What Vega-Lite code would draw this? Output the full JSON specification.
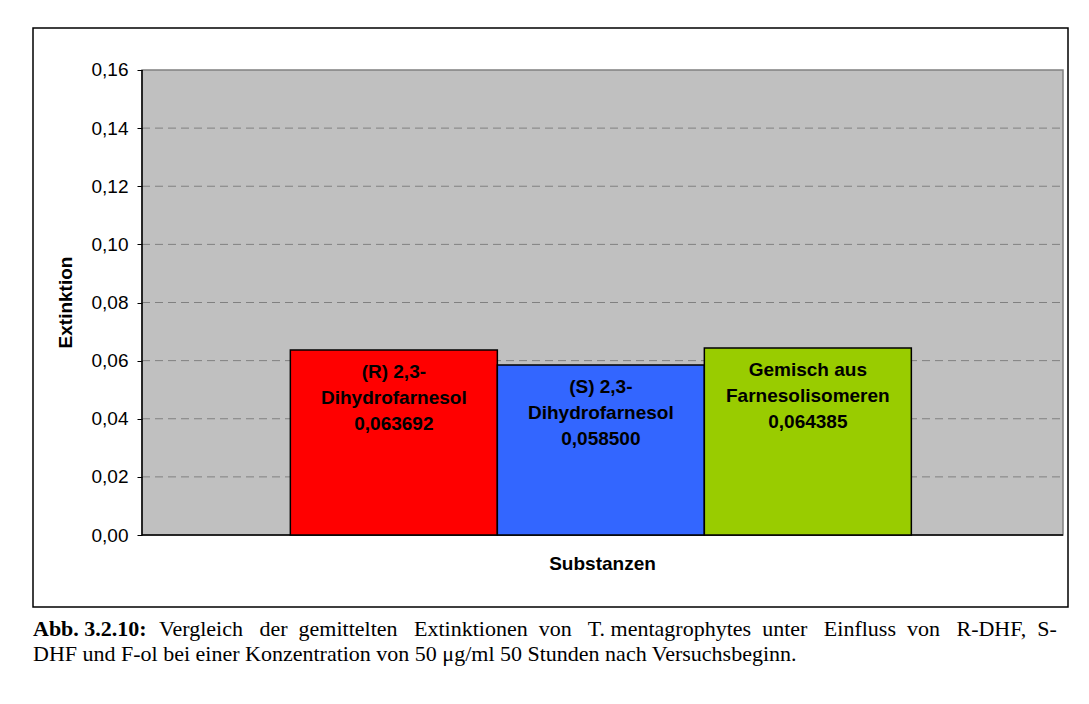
{
  "$schema": "https://vega.github.io/schema/vega-lite/v6.json",
  "width": 1035,
  "height": 579,
  "autosize": "none",
  "padding": {"left": 33, "top": 28, "right": 21, "bottom": 97},
  "background": "white",
  "config": {
    "view": {"stroke": "black", "strokeWidth": 1.5, "fill": "white"},
    "font": "Liberation Sans",
    "axisY": {"grid": false, "domain": false}
  },
  "title": {
    "text": "Abb. 3.2.10:",
    "subtitle": [
      "\u200b\u00a0\u00a0\u00a0\u00a0\u00a0\u00a0\u00a0\u00a0\u00a0\u00a0\u00a0\u00a0\u00a0\u00a0\u00a0\u00a0\u00a0\u00a0\u00a0\u00a0\u00a0\u00a0 Vergleich\u00a0\u00a0 der\u00a0 gemittelten\u00a0\u00a0 Extinktionen\u00a0 von\u00a0\u00a0 T. mentagrophytes\u00a0 unter\u00a0\u00a0 Einfluss\u00a0 von\u00a0\u00a0 R-DHF,\u00a0 S-",
      "DHF und F-ol bei einer Konzentration von 50 μg/ml 50 Stunden nach Versuchsbeginn."
    ],
    "orient": "bottom",
    "anchor": "start",
    "frame": "group",
    "font": "Liberation Serif",
    "fontSize": 22,
    "fontWeight": "bold",
    "color": "black",
    "subtitleFont": "Liberation Serif",
    "subtitleFontSize": 22,
    "subtitleFontWeight": "normal",
    "subtitleColor": "black",
    "subtitleLineHeight": 25,
    "subtitlePadding": -22,
    "offset": 12
  },
  "datasets": {
    "werte": [
      {"substanz": "(R) 2,3-Dihydrofarnesol", "zeile1": "(R) 2,3-", "zeile2": "Dihydrofarnesol", "extinktion": 0.063692},
      {"substanz": "(S) 2,3-Dihydrofarnesol", "zeile1": "(S) 2,3-", "zeile2": "Dihydrofarnesol", "extinktion": 0.0585},
      {"substanz": "Gemisch aus Farnesolisomeren", "zeile1": "Gemisch aus", "zeile2": "Farnesolisomeren", "extinktion": 0.064385}
    ],
    "gitter": [
      {"wert": 0.02}, {"wert": 0.04}, {"wert": 0.06}, {"wert": 0.08},
      {"wert": 0.10}, {"wert": 0.12}, {"wert": 0.14}
    ]
  },
  "layer": [
    {
      "data": {"values": [{}]},
      "mark": {"type": "rect", "fill": "#C0C0C0", "stroke": "#808080", "strokeWidth": 1.5},
      "encoding": {
        "x": {"datum": 0, "type": "quantitative", "scale": {"domain": [-0.11835, 1.00543], "nice": false, "zero": false}, "axis": null},
        "x2": {"datum": 1},
        "y": {
          "datum": 0,
          "type": "quantitative",
          "scale": {"domain": [-0.02477, 0.17445], "nice": false, "zero": false},
          "axis": {
            "title": "Extinktion",
            "values": [0, 0.02, 0.04, 0.06, 0.08, 0.10, 0.12, 0.14, 0.16],
            "labelExpr": "replace(format(datum.value, '.2f'), '.', ',')",
            "offset": -109,
            "zindex": 1,
            "domain": false,
            "grid": false,
            "ticks": true,
            "tickColor": "black",
            "tickWidth": 1,
            "tickSize": 5,
            "labelFont": "Liberation Sans",
            "labelFontSize": 19,
            "labelColor": "black",
            "labelPadding": 9,
            "titleFont": "Liberation Sans",
            "titleFontSize": 19,
            "titleFontWeight": "bold",
            "titleColor": "black",
            "titleX": -77,
            "titleY": 274,
            "titleAngle": -90,
            "titleBaseline": "middle",
            "titleAlign": "center"
          }
        },
        "y2": {"datum": 0.16}
      }
    },
    {
      "data": {"name": "gitter"},
      "mark": {"type": "rule", "color": "#808080", "strokeWidth": 1, "strokeDash": [8, 5]},
      "encoding": {
        "x": {"datum": 0, "type": "quantitative", "scale": {"domain": [-0.11835, 1.00543], "nice": false, "zero": false}, "axis": null},
        "x2": {"datum": 1},
        "y": {"field": "wert", "type": "quantitative"}
      }
    },
    {
      "data": {"values": [{}]},
      "mark": {"type": "rule", "color": "black", "strokeWidth": 1.5},
      "encoding": {
        "x": {"datum": 0, "type": "quantitative", "scale": {"domain": [-0.11835, 1.00543], "nice": false, "zero": false}, "axis": null},
        "y": {"datum": 0, "type": "quantitative"},
        "y2": {"datum": 0.16}
      }
    },
    {
      "data": {"values": [{}]},
      "mark": {"type": "rule", "color": "black", "strokeWidth": 1.5},
      "encoding": {
        "x": {"datum": 0, "type": "quantitative", "scale": {"domain": [-0.11835, 1.00543], "nice": false, "zero": false}, "axis": null},
        "x2": {"datum": 1},
        "y": {"datum": 0, "type": "quantitative"}
      }
    },
    {
      "data": {"name": "werte"},
      "transform": [
        {"calculate": "[datum.zeile1, datum.zeile2, replace(format(datum.extinktion, '.6f'), '.', ',')]", "as": "beschriftung"}
      ],
      "encoding": {
        "x": {
          "field": "substanz",
          "type": "nominal",
          "sort": null,
          "scale": {"paddingInner": 0, "paddingOuter": 1.0306, "align": 0.6216},
          "axis": {
            "title": "Substanzen",
            "labels": false,
            "ticks": false,
            "domain": false,
            "titleFont": "Liberation Sans",
            "titleFontSize": 19,
            "titleFontWeight": "bold",
            "titleColor": "black",
            "titleX": 569,
            "titleY": -44,
            "titleBaseline": "middle",
            "titleAlign": "center"
          }
        },
        "y": {"field": "extinktion", "type": "quantitative"}
      },
      "layer": [
        {
          "mark": {"type": "bar", "stroke": "black", "strokeWidth": 1.5},
          "encoding": {
            "color": {
              "field": "substanz",
              "type": "nominal",
              "scale": {
                "domain": ["(R) 2,3-Dihydrofarnesol", "(S) 2,3-Dihydrofarnesol", "Gemisch aus Farnesolisomeren"],
                "range": ["#FF0000", "#3366FF", "#99CC00"]
              },
              "legend": null
            }
          }
        },
        {
          "mark": {"type": "text", "baseline": "top", "align": "center", "dy": 13, "font": "Liberation Sans", "fontSize": 19, "fontWeight": "bold", "color": "black", "lineHeight": 26},
          "encoding": {
            "text": {"field": "beschriftung"}
          }
        }
      ]
    }
  ],
  "resolve": {"scale": {"x": "independent"}}
}
